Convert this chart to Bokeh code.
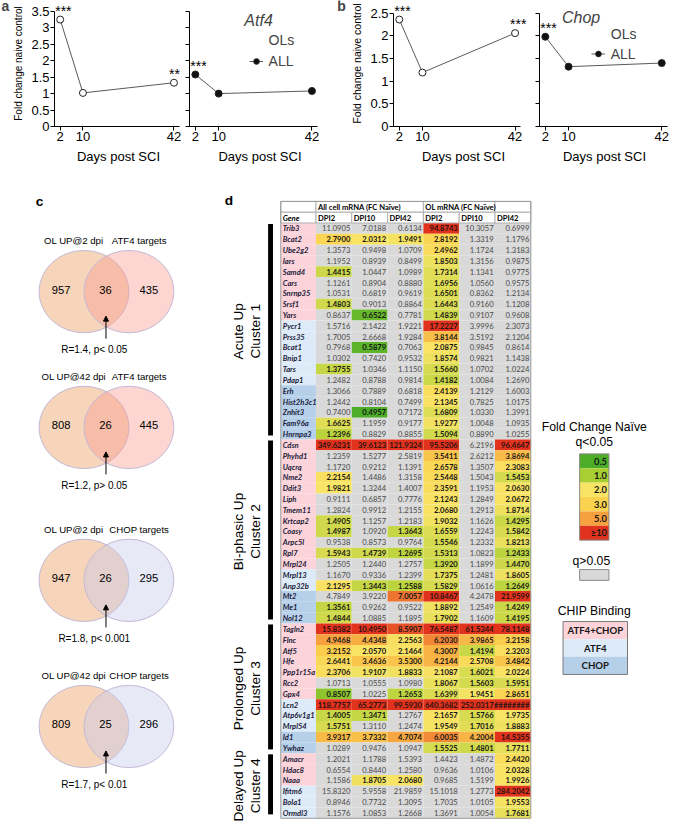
import math
from bokeh.plotting import figure
from bokeh.layouts import column, row
from bokeh.models import (Range1d, FixedTicker, NumeralTickFormatter, Legend, LegendItem,
                          Label, LabelSet, ColumnDataSource, Arrow, NormalHead)
from bokeh.core.properties import value
from bokeh.embed import file_html
from bokeh.resources import INLINE

# ---------------- data: panels a / b ----------------
days = [2, 10, 42]
atf4_ols = [3.25, 1.02, 1.33]
atf4_all = [1.58, 1.00, 1.08]
chop_ols = [2.36, 1.19, 2.06]
chop_all = [1.98, 1.32, 1.40]
atf4_ols_sig = ["***", "", "**"]
atf4_all_sig = ["***", "", ""]
chop_ols_sig = ["***", "", "***"]
chop_all_sig = ["***", "", ""]

# ---------------- data: panel c ----------------
venn_left_names = ["OL UP@2 dpi", "OL UP@42 dpi", "OL UP@2 dpi", "OL UP@42 dpi"]
venn_right_names = ["ATF4 targets", "ATF4 targets", "CHOP targets", "CHOP targets"]
venn_left_only = [957, 808, 947, 809]
venn_overlap = [36, 26, 26, 25]
venn_right_only = [435, 445, 295, 296]
venn_stats = ["R=1.4, p< 0.05", "R=1.2, p> 0.05", "R=1.8, p< 0.001", "R=1.7, p< 0.01"]
venn_kind = ["ATF4", "ATF4", "CHOP", "CHOP"]

# ---------------- data: panel d ----------------
cluster_names = ["Acute Up", "Bi-phasic Up", "Prolonged Up", "Delayed Up"]
cluster_labels = ["Cluster 1", "Cluster 2", "Cluster 3", "Cluster 4"]
cluster_sizes = [20, 17, 12, 6]
col_headers = ["DPI2", "DPI10", "DPI42", "DPI2", "DPI10", "DPI42"]
genes = ["Trib3", "Bcat2", "Ube2g2", "Iars", "Samd4", "Cars", "Snrnp35", "Srsf1", "Yars",
         "Pycr1", "Prss35", "Bcat1", "Bnip1", "Tars", "Pdap1", "Erh", "Hist2h3c1", "Znhit3",
         "Fam96a", "Hnrnpa3",
         "Cdsn", "Phyhd1", "Uqcrq", "Nme2", "Ddit3", "Liph", "Tmem11", "Krtcap2", "Coasy",
         "Arpc5l", "Rpl7", "Mrpl24", "Mrpl13", "Anp32b", "Mt2", "Me1", "Nol12",
         "Tagln2", "Flnc", "Atf5", "Hfe", "Ppp1r15a", "Rcc2", "Gpx4", "Lcn2", "Atp6v1g1",
         "Mrpl54", "Id1", "Ywhaz",
         "Amacr", "Hdac8", "Naaa", "Ifitm6", "Bola1", "Ormdl3"]
binding = ["AC", "AC", "AC", "AC", "AC", "AC", "AC", "AC", "AC",
           "A", "A", "A", "A", "A", "A", "C", "C", "C", "C", "C",
           "AC", "AC", "AC", "AC", "AC", "AC", "AC", "AC", "AC", "AC", "AC", "AC",
           "A", "A", "C", "C", "C",
           "AC", "AC", "AC", "AC", "AC", "AC", "AC", "A", "A", "A", "C", "C",
           "AC", "AC", "AC", "A", "A", "A"]
all_dpi2 = [11.0905, 2.7900, 1.3573, 1.1952, 1.4415, 1.1261, 1.0531, 1.4803, 0.8637, 1.5716,
            1.7005, 0.7968, 1.0302, 1.3755, 1.2482, 1.3066, 1.2442, 0.7400, 1.6625, 1.2396,
            349.6231, 1.2359, 1.1720, 2.2154, 1.9821, 0.9111, 1.2824, 1.4905, 1.4987, 0.9538,
            1.5943, 1.2505, 1.1670, 2.1295, 4.7849, 1.3561, 1.4844,
            15.8382, 4.9468, 3.2152, 2.6441, 2.3706, 1.0713, 0.8507, 118.7757, 1.4005, 1.5751,
            3.9317, 1.0289,
            1.2021, 0.6554, 1.1586, 15.8320, 0.8946, 1.1576]
all_dpi10 = [7.0188, 2.0312, 0.9498, 0.8939, 1.0447, 0.8904, 0.6819, 0.9013, 0.6522, 2.1422,
             2.6668, 0.5879, 0.7420, 1.0346, 0.8788, 0.7889, 0.8104, 0.4957, 1.1959, 0.8829,
             39.6123, 1.5277, 0.9212, 1.4486, 1.3244, 0.6857, 0.9912, 1.1257, 1.0920, 0.8573,
             1.4739, 1.2440, 0.9336, 1.3443, 3.9220, 0.9262, 1.0885,
             10.4950, 4.4348, 2.0570, 3.4636, 1.9107, 1.0555, 1.0225, 65.2773, 1.3471, 1.3110,
             3.7332, 0.9476,
             1.1788, 0.8440, 1.8705, 5.9558, 0.7732, 1.0853]
all_dpi42 = [0.6134, 1.9491, 1.0709, 0.8499, 1.0989, 0.8880, 0.9619, 0.8864, 0.7781, 1.9221,
             1.9284, 0.7063, 0.9532, 1.1150, 0.9814, 0.6818, 0.7499, 0.7172, 0.9177, 0.8855,
             121.9324, 2.5819, 1.1391, 1.3158, 1.4007, 0.7776, 1.2155, 1.2183, 1.3643, 0.9764,
             1.2695, 1.2757, 1.2399, 1.2588, 7.0057, 0.9522, 1.1895,
             8.5907, 2.2563, 2.1464, 3.5300, 1.8833, 1.0980, 1.2653, 99.5930, 1.2767, 1.2474,
             4.7074, 1.0947,
             1.5393, 1.2580, 2.0680, 21.9859, 1.3095, 1.2668]
ol_dpi2 = [94.8743, 2.8192, 2.4962, 1.8503, 1.7314, 1.6956, 1.6501, 1.6443, 1.4839, 17.2227,
           3.8144, 2.0875, 1.8574, 1.5660, 1.4182, 2.4139, 2.1345, 1.6809, 1.9277, 1.5094,
           95.5206, 3.5411, 2.6578, 2.5448, 2.3591, 2.1243, 2.0680, 1.9032, 1.6559, 1.5546,
           1.5313, 1.3920, 1.7375, 1.5829, 10.8467, 1.8892, 1.7902,
           76.5487, 6.2030, 4.3007, 4.2144, 2.1087, 1.8067, 1.6399, 640.3682, 2.1657, 1.9549,
           6.0035, 1.5525,
           1.4423, 0.9636, 0.9685, 15.1018, 1.7035, 1.3691]
ol_dpi10 = [10.3057, 1.3319, 1.1724, 1.3156, 1.1341, 1.0560, 0.8362, 0.9160, 0.9107, 3.9996,
            3.5192, 0.9845, 0.9821, 1.0702, 1.0084, 1.2129, 0.7825, 1.0330, 1.0048, 0.8890,
            6.2196, 2.6212, 1.3507, 1.5043, 1.1953, 1.2849, 1.2913, 1.1626, 1.2243, 1.2332,
            1.0823, 1.1899, 1.2481, 1.0616, 4.2478, 1.2549, 1.1609,
            61.5344, 3.9865, 1.4194, 2.5708, 1.6021, 1.5603, 1.9451, 252.0317, 1.5766, 1.7016,
            4.2004, 1.4801,
            1.4872, 1.0106, 1.5199, 1.2773, 1.0105, 1.0054]
ol_dpi42 = [0.6999, 1.1796, 1.3183, 0.9875, 0.9775, 0.9575, 1.2134, 1.1208, 0.9608, 2.3073,
            2.1204, 0.8614, 1.1438, 1.0224, 1.2690, 1.6003, 1.0175, 1.3991, 1.0935, 1.0255,
            96.4647, 3.8694, 2.3083, 1.5453, 2.0630, 2.0672, 1.8714, 1.4295, 1.5842, 1.8213,
            1.2433, 1.4470, 1.8605, 1.2649, 21.9599, 1.4249, 1.4195,
            78.1148, 3.2158, 2.3203, 3.4842, 2.0224, 1.5951, 2.8651, None, 1.9735, 1.8883,
            14.5355, 1.7711,
            2.4420, 2.0328, 1.9926, 284.2042, 1.9553, 1.7681]
# significance (q<0.05) per gene for the six columns
sig = ["000100", "111100", "000100", "000100", "100100", "000100", "000100", "100100", "010100",
       "000100", "000100", "010100", "000100", "100100", "000100", "000100", "000100", "010100",
       "100100", "100100",
       "111101", "000101", "000101", "100101", "100101", "000101", "000101", "100101", "101101",
       "000101", "111101", "000101", "000101", "111101", "001101", "100101", "100101",
       "111111", "111111", "111111", "111111", "111111", "000111", "101111", "111111", "110111",
       "100111", "111111", "000111",
       "000001", "000001", "011001", "000001", "000001", "000001"]
fc_legend_values = [0.5, 1.0, 2.0, 3.0, 5.0, 10.0]
fc_legend_labels = ["0.5", "1.0", "2.0", "3.0", "5.0", "\u226510"]
chip_labels = ["ATF4+CHOP", "ATF4", "CHOP"]
chip_codes = ["AC", "A", "C"]

# ---------------- geometry helpers ----------------
W, H = 669, 823
RW, RH = 685, 839
SX, SY = W / RW, H / RH
TOP = 175
FONT = "Liberation Sans"
TFONT = "Lato"


def px(v):
    return int(round(v * SX))


def py(v):
    return int(round(v * SY))


def fs(v):
    return "%.1fpx" % (v * SX)


FC_COLORS = ["#4cae28", "#a8cf32", "#f9e466", "#fad24f", "#f7a03e", "#e1321e"]


def hex2rgb(h):
    return tuple(int(h[i:i + 2], 16) for i in (1, 3, 5))


def fc_color(v):
    if v is None or v >= fc_legend_values[-1]:
        return FC_COLORS[-1]
    if v <= fc_legend_values[0]:
        return FC_COLORS[0]
    for i in range(len(fc_legend_values) - 1):
        a, b = fc_legend_values[i], fc_legend_values[i + 1]
        if a <= v <= b:
            t = (v - a) / (b - a)
            c0, c1 = hex2rgb(FC_COLORS[i]), hex2rgb(FC_COLORS[i + 1])
            c = [int(round(c0[k] + (c1[k] - c0[k]) * t)) for k in range(3)]
            return "#%02x%02x%02x" % tuple(c)
    return FC_COLORS[-1]


# ---------------- panels a / b ----------------
UX = 131.0 / 44.0   # ref px per day


def line_fig(L, FL, R, ftop, fbot, ymax, yticks, first, ylabel_size):
    width = px(R) - px(L)
    height = py(TOP)
    uy = (fbot - ftop) / ymax
    p = figure(width=width, height=height,
               x_range=Range1d(0, (R - FL) / UX), y_range=Range1d(0, fbot / uy),
               output_backend="svg", toolbar_location=None,
               min_border_left=px(FL) - px(L), min_border_right=0,
               min_border_top=0, min_border_bottom=height - py(fbot))
    p.xgrid.visible = False
    p.ygrid.visible = False
    p.outline_line_color = None
    p.xaxis.ticker = FixedTicker(ticks=days)
    p.yaxis.ticker = FixedTicker(ticks=yticks)
    p.xaxis.bounds = (0, 44)
    p.yaxis.bounds = (0, ymax)
    p.yaxis.formatter = NumeralTickFormatter(format="0.[0]")
    for ax in p.axis:
        ax.axis_line_color = "black"
        ax.major_tick_line_color = "black"
        ax.minor_tick_line_color = None
        ax.major_tick_in = 0
        ax.major_tick_out = 4
        ax.major_label_text_font = FONT
        ax.major_label_text_font_size = "13px"
        ax.major_label_text_color = "black"
        ax.axis_label_text_font = FONT
        ax.axis_label_text_font_size = "13px"
        ax.axis_label_text_font_style = "normal"
        ax.axis_label_text_color = "black"
    p.xaxis.axis_label = "Days post SCI"
    p.xaxis.major_label_standoff = 1
    p.xaxis.axis_label_standoff = 5
    if first:
        p.yaxis.axis_label = "Fold change naive control"
        p.yaxis.axis_label_text_font_size = ylabel_size
        p.yaxis.major_label_standoff = 1
        p.yaxis.axis_label_standoff = 4
    else:
        p.yaxis.major_label_text_font_size = "0px"
        p.yaxis.major_label_standoff = 0
    p._geom = (FL, fbot, uy)
    return p


def ref_to_data(p, X, Y):
    FL, fbot, uy = p._geom
    return (X - FL) / UX, (fbot - Y) / uy


def add_series(p, yvals, stars, filled):
    src = ColumnDataSource(dict(x=days, y=yvals, t=stars))
    rl = p.line('x', 'y', source=src, line_color="#5a5a5a", line_width=1)
    rs = p.scatter('x', 'y', source=src, marker="circle", size=7, line_color="#222222",
                   line_width=1, fill_color="#111111" if filled else "white")
    p.add_layout(LabelSet(x='x', y='y', text='t', source=src, x_offset=-5, y_offset=4,
                          text_align="left", text_baseline="alphabetic",
                          text_font=value(FONT), text_font_size=value("14px"),
                          text_color="black"))
    return rl, rs


def legend_dummy(p, filled):
    rl = p.line(x=[], y=[], line_color="#5a5a5a", line_width=1)
    rs = p.scatter(x=[], y=[], marker="circle", size=7, line_color="#222222", line_width=1,
                   fill_color="#111111" if filled else "white")
    return rl, rs


def add_legend(p, gene, ols_r, all_r, title_xy, glyph_left, bottom_ref, item_h):
    FL, fbot, uy = p._geom
    leg = Legend(items=[LegendItem(label="OLs", renderers=list(ols_r)),
                        LegendItem(label="ALL", renderers=list(all_r))],
                 location=((glyph_left - FL) * SX, (fbot - bottom_ref) * SY),
                 border_line_color=None, background_fill_alpha=0, padding=0, margin=0,
                 spacing=1, glyph_width=14, glyph_height=item_h, label_height=item_h,
                 label_standoff=6, label_text_font=FONT, label_text_font_size="14px",
                 label_text_baseline="middle")
    p.add_layout(leg)
    tx, ty = ref_to_data(p, title_xy[0], title_xy[1])
    p.add_layout(Label(x=tx, y=ty, text=gene, text_font=FONT, text_font_style="italic",
                       text_font_size="16px", text_align="left", text_baseline="middle"))


def letter_fig(L, R, letter, X, Y):
    w = px(R) - px(L)
    h = py(TOP)
    p = figure(width=w, height=h, x_range=Range1d(L, R), y_range=Range1d(TOP, 0),
               output_backend="svg", toolbar_location=None, x_axis_type=None,
               y_axis_type=None, min_border_left=0, min_border_right=0, min_border_top=0,
               min_border_bottom=0)
    p.outline_line_color = None
    p.xgrid.visible = False
    p.ygrid.visible = False
    p.add_layout(Label(x=X, y=Y, text=letter, text_font=FONT, text_font_style="bold",
                       text_font_size="14px", text_align="center", text_baseline="middle"))
    return p


ticks_a = [0, 0.5, 1, 1.5, 2, 2.5, 3, 3.5]
ticks_b = [0, 0.5, 1, 1.5, 2, 2.5]

fa = letter_fig(0, 10, "a", 5, 7)
a1 = line_fig(10, 52, 186, 11, 128, 3.5, ticks_a, True, "10px")
a2 = line_fig(186, 194, 338, 11, 128, 3.5, ticks_a, False, "10px")
fb = letter_fig(338, 354, "b", 349, 7)
b1 = line_fig(354, 402, 546, 13.3, 132, 2.5, ticks_b, True, "10.5px")
b2 = line_fig(546, 552, 685, 13.3, 132, 2.5, ticks_b, False, "10.5px")

add_series(a1, atf4_ols, atf4_ols_sig, False)
all_a = add_series(a2, atf4_all, atf4_all_sig, True)
ols_a = legend_dummy(a2, False)
add_legend(a2, "Atf4", ols_a, all_a, (250, 20), 255, 72, 20)

add_series(b1, chop_ols, chop_ols_sig, False)
all_b = add_series(b2, chop_all, chop_all_sig, True)
ols_b = legend_dummy(b2, False)
add_legend(b2, "Chop", ols_b, all_b, (575, 18), 605, 68, 19)

# ---------------- canvas for panels c / d ----------------
cv = figure(width=W, height=H - py(TOP), x_range=Range1d(0, RW), y_range=Range1d(RH, TOP),
            output_backend="svg", toolbar_location=None, x_axis_type=None, y_axis_type=None,
            min_border_left=0, min_border_right=0, min_border_top=0, min_border_bottom=0)
cv.outline_line_color = None
cv.xgrid.visible = False
cv.ygrid.visible = False


def txt(x, y, t, size, font=FONT, style="normal", align="center", baseline="middle",
        color="black", angle=0.0):
    cv.text(x=[x], y=[y], text=[t], text_font=value(font), text_font_size=value(size),
            text_font_style=value(style), text_align=value(align),
            text_baseline=value(baseline), text_color=value(color), angle=angle)


# ---- panel c: Venn diagrams ----
txt(40, 205, "c", fs(14), style="bold")
venn_cy = [296.5, 435, 591, 740]
LEFT_BASE = "#e99b5a"
RIGHT_BASE = {"ATF4": "#fa9d91", "CHOP": "#c5caed"}
ex, ey, ecol = [], [], []
for i in range(len(venn_overlap)):
    ex += [85.5, 131.5]
    ey += [venn_cy[i], venn_cy[i]]
    ecol += [LEFT_BASE, RIGHT_BASE[venn_kind[i]]]
cv.ellipse(x=ex, y=ey, width=92, height=84, fill_color=ecol, fill_alpha=0.42,
           line_color="#c4b8d6", line_width=1)
for i in range(len(venn_overlap)):
    cy = venn_cy[i]
    txt(75, cy - 52, venn_left_names[i], fs(9.8))
    txt(142, cy - 52, venn_right_names[i], fs(9.8))
    txt(62, cy - 2, str(venn_left_only[i]), fs(11.5))
    txt(107.5, cy - 2, str(venn_overlap[i]), fs(11.5))
    txt(152, cy - 2, str(venn_right_only[i]), fs(11.5))
    txt(96, cy + 59, venn_stats[i], fs(10.2))
    cv.add_layout(Arrow(x_start=108, y_start=cy + 48, x_end=108, y_end=cy + 25,
                        line_color="black", line_width=1,
                        end=NormalHead(size=5, fill_color="black", line_color="black")))

# ---- panel d: table ----
txt(234, 204, "d", fs(14), style="bold")
T_LEFT = 287.0
GENE_R = 323.0
T_RIGHT = 543.0
COL_W = (T_RIGHT - GENE_R) / 6
ROW_H = 11.04
H1_TOP = 204.5
R0_TOP = 226.5
cols = [all_dpi2, all_dpi10, all_dpi42, ol_dpi2, ol_dpi10, ol_dpi42]
BIND_COLORS = {"AC": "#fbd3d9", "A": "#ddeaf7", "C": "#b6d0ea"}
GREY = "#d9d9d9"

ql, qr, qt, qb, qc = [], [], [], [], []
gx, gy, gt = [], [], []
bx, by, bt, bcol = [], [], [], []
nx, ny, nt = [], [], []
n = len(genes)
for r in range(n):
    top = R0_TOP + r * ROW_H
    bot = top + ROW_H
    ymid = top + ROW_H / 2
    ql.append(T_LEFT); qr.append(GENE_R); qt.append(top); qb.append(bot)
    qc.append(BIND_COLORS[binding[r]])
    gx.append(T_LEFT + 2); gy.append(ymid); gt.append(genes[r])
    for c in range(6):
        v = cols[c][r]
        left = GENE_R + c * COL_W
        s = sig[r][c] == "1"
        ql.append(left); qr.append(left + COL_W); qt.append(top); qb.append(bot)
        qc.append(fc_color(v) if s else GREY)
        label = "########" if v is None else "%.4f" % v
        if s:
            bx.append(left + COL_W - 1.5); by.append(ymid); bt.append(label)
            bcol.append("#2a1212" if (v is None or v >= 10) else "#161616")
        else:
            nx.append(left + COL_W - 1.5); ny.append(ymid); nt.append(label)
cv.quad(left=ql, right=qr, top=qt, bottom=qb, fill_color=qc, line_color=None)

# header
hl = [T_LEFT, GENE_R, GENE_R + 3 * COL_W, GENE_R + 5 * COL_W]
hr = [GENE_R, GENE_R + 3 * COL_W, GENE_R + 5 * COL_W, T_RIGHT]
h2l = [T_LEFT] + [GENE_R + c * COL_W for c in range(6)]
h2r = [GENE_R] + [GENE_R + (c + 1) * COL_W for c in range(6)]
cv.quad(left=hl + h2l, right=hr + h2r,
        top=[H1_TOP] * 4 + [H1_TOP + ROW_H] * 7,
        bottom=[H1_TOP + ROW_H] * 4 + [R0_TOP] * 7,
        fill_color="white", line_color="#b0b0b0", line_width=1)
cv.quad(left=[T_LEFT], right=[T_RIGHT], top=[H1_TOP], bottom=[R0_TOP + n * ROW_H],
        fill_color=None, line_color="#9a9a9a", line_width=1)
hy1 = H1_TOP + ROW_H / 2
hy2 = H1_TOP + 1.5 * ROW_H
txt(GENE_R + 2, hy1, "All cell mRNA (FC Na\u00efve)", fs(7.8), font=TFONT, style="bold", align="left")
txt(GENE_R + 3 * COL_W + 2, hy1, "OL mRNA (FC Na\u00efve)", fs(7.8), font=TFONT, style="bold", align="left")
txt(T_LEFT + 2, hy2, "Gene", fs(7.8), font=TFONT, style="bold italic", align="left")
cv.text(x=[GENE_R + c * COL_W + 2 for c in range(6)], y=[hy2] * 6, text=col_headers,
        text_font=value(TFONT), text_font_size=value(fs(7.8)), text_font_style=value("bold"),
        text_align=value("left"), text_baseline=value("middle"), text_color=value("black"))

cv.text(x=gx, y=gy, text=gt, text_font=value(TFONT), text_font_size=value(fs(7.8)),
        text_font_style=value("bold italic"), text_align=value("left"),
        text_baseline=value("middle"), text_color=value("#1c1c3a"))
cv.text(x=nx, y=ny, text=nt, text_font=value(TFONT), text_font_size=value(fs(7.8)),
        text_font_style=value("normal"), text_align=value("right"),
        text_baseline=value("middle"), text_color=value("#4a4a4a"))
cv.text(x=bx, y=by, text=bt, text_font=value(TFONT), text_font_size=value(fs(7.8)),
        text_font_style=value("bold"), text_align=value("right"),
        text_baseline=value("middle"), text_color=bcol)

# cluster bars and labels
start = 0
for k in range(len(cluster_sizes)):
    top = R0_TOP + start * ROW_H
    bot = top + cluster_sizes[k] * ROW_H
    cv.quad(left=[274], right=[279], top=[top + 1], bottom=[bot - 4], fill_color="black",
            line_color=None)
    mid = (top + bot) / 2
    txt(244, mid, cluster_names[k], fs(14), angle=math.pi / 2)
    txt(261, mid, cluster_labels[k], fs(14), angle=math.pi / 2)
    start += cluster_sizes[k]

# fold-change legend
txt(608, 435, "Fold Change Na\u00efve", fs(12.5))
txt(608, 450, "q<0.05", fs(12.5))
LG_TOP = 462.0
LG_H = 88.0 / 6
cv.quad(left=[593] * 6, right=[623] * 6,
        top=[LG_TOP + i * LG_H for i in range(6)],
        bottom=[LG_TOP + (i + 1) * LG_H for i in range(6)],
        fill_color=[fc_color(v) for v in fc_legend_values], line_color=None)
cv.quad(left=[593], right=[623], top=[LG_TOP], bottom=[LG_TOP + 6 * LG_H], fill_color=None,
        line_color="#8a8a8a", line_width=1)
cv.text(x=[621] * 6, y=[LG_TOP + (i + 0.5) * LG_H for i in range(6)], text=fc_legend_labels,
        text_font=value(TFONT), text_font_size=value(fs(9.5)), text_font_style=value("bold"),
        text_align=value("right"), text_baseline=value("middle"), text_color=value("#161616"))
txt(605, 571, "q>0.05", fs(12.5))
cv.quad(left=[593], right=[623], top=[580], bottom=[591], fill_color=GREY,
        line_color="#8a8a8a", line_width=1)

# CHIP binding legend
txt(608, 622, "CHIP Binding", fs(12.5))
CB_TOP = 633.0
CB_H = 18.0
cv.quad(left=[576] * 3, right=[642] * 3, top=[CB_TOP + i * CB_H for i in range(3)],
        bottom=[CB_TOP + (i + 1) * CB_H for i in range(3)],
        fill_color=[BIND_COLORS[c] for c in chip_codes], line_color=None)
cv.quad(left=[576], right=[642], top=[CB_TOP], bottom=[CB_TOP + 3 * CB_H], fill_color=None,
        line_color="#7a7a7a", line_width=1)
cv.text(x=[609] * 3, y=[CB_TOP + (i + 0.5) * CB_H for i in range(3)], text=chip_labels,
        text_font=value(TFONT), text_font_size=value(fs(9.8)), text_font_style=value("bold"),
        text_align=value("center"), text_baseline=value("middle"), text_color=value("#161616"))

layout = column(row(fa, a1, a2, fb, b1, b2), cv)
open("out.html", "w").write(file_html(layout, INLINE))
